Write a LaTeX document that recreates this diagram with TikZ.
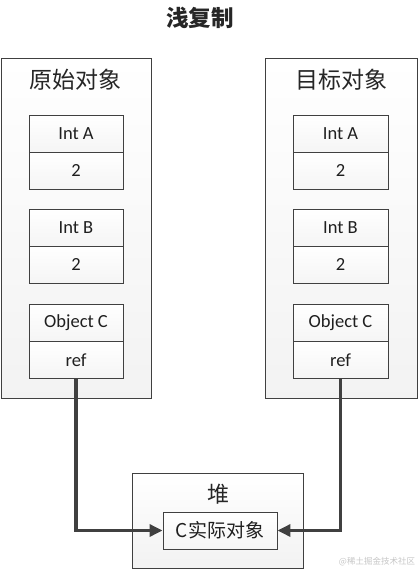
\documentclass[tikz,border=0pt]{standalone}
\usepackage{fontspec}
\setmainfont{Carlito}
\newfontfamily\cjk{Noto Sans CJK SC}
\usetikzlibrary{arrows.meta}
\definecolor{edge}{HTML}{404040}
\tikzset{
  outerbox/.style={draw=edge, line width=0.9pt, top color=white, bottom color=gray!10, inner sep=0pt},
  cell/.style={draw=edge, line width=0.9pt, top color=white, bottom color=gray!8, inner sep=0pt, minimum height=37pt, font=\fontsize{18.5}{20}\selectfont, text=black!88},
  ptr/.style={draw=edge, line width=3.5pt, -{Triangle[length=13pt,width=12pt]}},
  biglabel/.style={font=\cjk\fontsize{23}{26}\selectfont, text=black!85},
}
\begin{document}
\begin{tikzpicture}[x=1pt,y=-1pt]
\useasboundingbox (0,0) rectangle (419,571);
\node[font=\cjk\bfseries\fontsize{22.5}{26}\selectfont, text=black!85] (title) at (200,18) {浅复制};
% outer boxes
\node[outerbox, minimum width=150pt, minimum height=340pt] (L) at (76,228) {};
\node[outerbox, minimum width=152pt, minimum height=340pt] (R) at (341,228) {};
\node[biglabel] (Ltitle) at (76,80) {原始对象};
\node[biglabel] (Rtitle) at (341,80) {目标对象};
% left cells
\node[cell, minimum width=94pt] (LA1) at (76,133.5) {Int A};
\node[cell, minimum width=94pt] (LA2) at (76,170.5) {2};
\node[cell, minimum width=94pt] (LB1) at (76,227.5) {Int B};
\node[cell, minimum width=94pt] (LB2) at (76,264.5) {2};
\node[cell, minimum width=94pt] (LC1) at (76,323) {Object C};
\node[cell, minimum width=94pt] (LC2) at (76,360) {ref};
% right cells
\node[cell, minimum width=95pt] (RA1) at (340.5,133.5) {Int A};
\node[cell, minimum width=95pt] (RA2) at (340.5,170.5) {2};
\node[cell, minimum width=95pt] (RB1) at (340.5,227.5) {Int B};
\node[cell, minimum width=95pt] (RB2) at (340.5,264.5) {2};
\node[cell, minimum width=95pt] (RC1) at (340.5,323) {Object C};
\node[cell, minimum width=95pt] (RC2) at (340.5,360) {ref};
% heap
\node[outerbox, minimum width=171pt, minimum height=95pt] (H) at (217.5,520.5) {};
\node[biglabel, font=\cjk\fontsize{22}{25}\selectfont] (Htitle) at (218,494) {堆};
\node[cell, minimum width=114pt, font=\cjk\fontsize{19}{22}\selectfont] (C) at (220,530.5) {C实际对象};
% pointers
\draw[ptr] (LC2.south) |- (C.west);
\draw[ptr] (RC2.south) |- (C.east);
% watermark
\node[font=\cjk\fontsize{8.5}{10}\selectfont, text=gray!45] (wm) at (377,562) {@稀土掘金技术社区};
\end{tikzpicture}
\end{document}
